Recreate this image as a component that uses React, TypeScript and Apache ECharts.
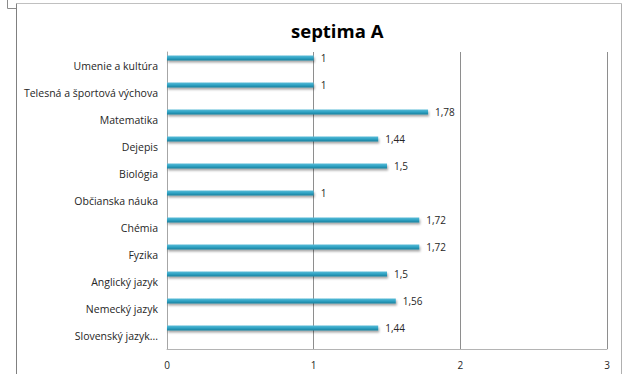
import React, { useEffect, useRef } from "react";
import * as echarts from "echarts";

const categories = [
  "Slovenský jazyk...",
  "Nemecký jazyk",
  "Anglický jazyk",
  "Fyzika",
  "Chémia",
  "Občianska náuka",
  "Biológia",
  "Dejepis",
  "Matematika",
  "Telesná a športová výchova",
  "Umenie a kultúra",
];
const values = [1.44, 1.56, 1.5, 1.72, 1.72, 1, 1.5, 1.44, 1.78, 1, 1];
const emptyValues = categories.map(() => null);
const xTicks = { min: 0, max: 3, interval: 1 };
const title = "septima A";

const FONT = "Open Sans";

export default function App() {
  const ref = useRef<HTMLDivElement>(null);
  useEffect(() => {
    document.body.style.margin = "0";
    const chart = echarts.init(ref.current!, null, { renderer: "svg" });
    chart.setOption({
      animation: false,
      backgroundColor: "#ffffff",
      title: {
        text: title,
        left: 291,
        top: 21,
        padding: 0,
        textStyle: { fontFamily: FONT, fontSize: 18.5, fontWeight: "bold", color: "#000000" },
      },
      graphic: [
        { type: "line", shape: { x1: 7.5, y1: 0, x2: 7.5, y2: 8.5 }, style: { stroke: "#8c8c8c", lineWidth: 1 } },
        { type: "line", shape: { x1: 7.5, y1: 8.5, x2: 17, y2: 8.5 }, style: { stroke: "#8c8c8c", lineWidth: 1 } },
        { type: "line", shape: { x1: 16.5, y1: 3.5, x2: 621.5, y2: 3.5 }, style: { stroke: "#c0c0c0", lineWidth: 1 } },
        { type: "line", shape: { x1: 16.5, y1: 3.5, x2: 16.5, y2: 374 }, style: { stroke: "#808080", lineWidth: 1 } },
        { type: "line", shape: { x1: 621.5, y1: 3.5, x2: 621.5, y2: 374 }, style: { stroke: "#b0b0b0", lineWidth: 1 } },
      ],
      grid: { left: 167, right: 16, top: 52, bottom: 25, containLabel: false },
      xAxis: {
        type: "value",
        min: xTicks.min,
        max: xTicks.max,
        interval: xTicks.interval,
        axisLine: { show: true, lineStyle: { color: "#b4b4b4" } },
        axisTick: { show: false },
        splitLine: { show: true, lineStyle: { color: "#8e8e8e" } },
        axisLabel: { fontFamily: FONT, fontSize: 10, color: "#262626", margin: 11 },
      },
      yAxis: {
        type: "category",
        data: categories,
        axisLine: { show: true, lineStyle: { color: "#a6a6a6" } },
        axisTick: { show: false },
        axisLabel: { fontFamily: FONT, fontSize: 10.5, color: "#262626", margin: 9 },
      },
      series: [
        {
          type: "bar",
          data: values,
          barWidth: 5,
          barGap: "200%",
          itemStyle: {
            color: new echarts.graphic.LinearGradient(0, 0, 0, 1, [
              { offset: 0, color: "#5bbcd8" },
              { offset: 0.5, color: "#2fa3c4" },
              { offset: 1, color: "#1c7f9c" },
            ]),
            shadowColor: "rgba(0,0,0,0.35)",
            shadowBlur: 2,
            shadowOffsetY: 2,
            shadowOffsetX: 1,
          },
          label: {
            show: true,
            position: "right",
            distance: 7,
            fontFamily: FONT,
            fontSize: 10,
            color: "#262626",
            formatter: (p: any) => String(p.value).replace(".", ","),
          },
        },
        {
          type: "bar",
          data: emptyValues,
          barWidth: 5,
          barGap: "200%",
        },
      ],
    });
    return () => chart.dispose();
  }, []);
  return <div ref={ref} style={{ width: 623, height: 374 }} />;
}
